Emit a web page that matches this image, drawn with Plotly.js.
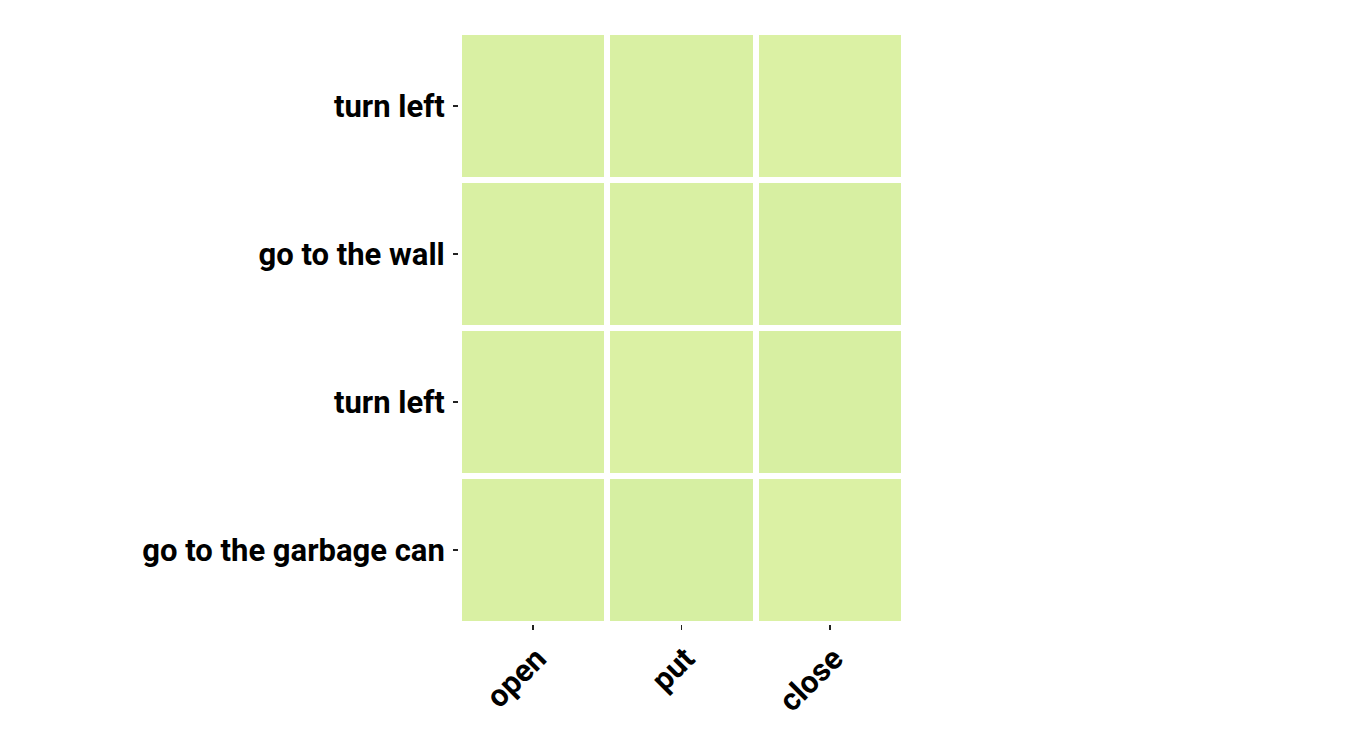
<!DOCTYPE html>
<html>
<head>
<meta charset="utf-8">
<script src="https://cdn.plot.ly/plotly-3.0.1.min.js"></script>
<style>html,body{margin:0;padding:0;background:#fff;}#chart{width:1350px;height:750px;}</style>
</head>
<body>
<div id="chart"></div>
<script>
// Data
const actions = ["open", "put", "close"];
const steps = ["turn left", "go to the wall", "turn left", "go to the garbage can"];
const values = [
  [0.250, 0.250, 0.242],
  [0.249, 0.250, 0.257],
  [0.250, 0.243, 0.256],
  [0.250, 0.258, 0.242]
];

// matplotlib YlGn colorscale
const ylgn = [
  [0.0, "#ffffe5"], [0.125, "#f7fcb9"], [0.25, "#d9f0a3"], [0.375, "#addd8e"],
  [0.5, "#78c679"], [0.625, "#41ab5d"], [0.75, "#238443"], [0.875, "#006837"], [1.0, "#004529"]
];

const rowIdx = steps.map((s, i) => i);
const colIdx = actions.map((a, i) => i);

const trace = {
  type: "heatmap",
  x: colIdx,
  y: rowIdx,
  z: values,
  colorscale: ylgn,
  zmin: 0,
  zmax: 1,
  showscale: false,
  xgap: 6,
  ygap: 6,
  hoverongaps: false
};

const tickFont = {family: "Roboto, sans-serif", size: 31, color: "#000", weight: "bold"};

const layout = {
  width: 1350,
  height: 750,
  paper_bgcolor: "#fff",
  plot_bgcolor: "#fff",
  margin: {l: 459, r: 446, t: 32, b: 126},
  font: {family: "Roboto, sans-serif"},
  xaxis: {
    tickmode: "array",
    tickvals: colIdx,
    ticktext: actions,
    tickangle: -45,
    ticks: "outside",
    ticklen: 5,
    tickwidth: 1.5,
    tickcolor: "#222",
    tickfont: tickFont,
    ticklabelstandoff: -2,
    ticklabelshift: 4,
    showgrid: false,
    zeroline: false,
    showline: false,
    range: [-0.5, 2.5]
  },
  yaxis: {
    tickmode: "array",
    tickvals: rowIdx,
    ticktext: steps,
    autorange: "reversed",
    ticks: "outside",
    ticklen: 5,
    tickwidth: 1.5,
    tickcolor: "#222",
    tickfont: tickFont,
    ticklabelstandoff: 2,
    showgrid: false,
    zeroline: false,
    showline: false
  }
};

Plotly.newPlot("chart", [trace], layout, {displayModeBar: false, staticPlot: true});
</script>
</body>
</html>
